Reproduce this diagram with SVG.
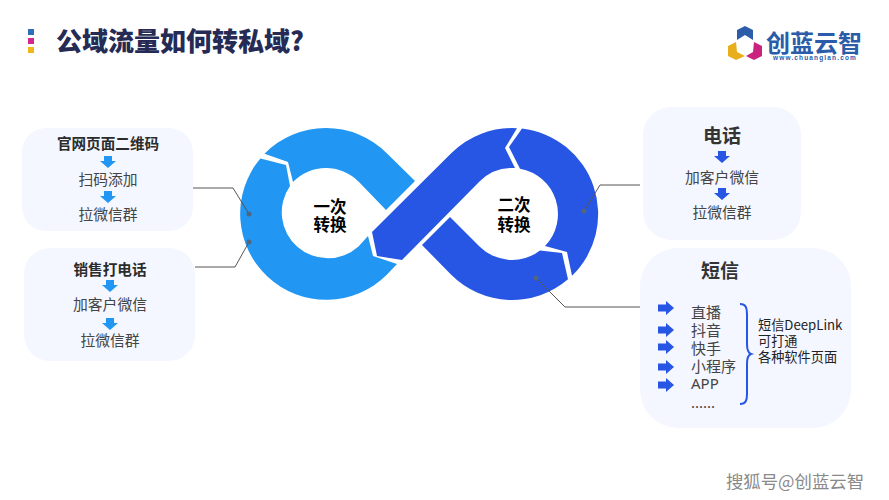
<svg xmlns="http://www.w3.org/2000/svg" width="889" height="500" viewBox="0 0 889 500">
<style>
text{font-family:"Noto Sans CJK SC","Noto Sans",sans-serif;text-anchor:middle}
.panel{fill:#f4f7ff}
.h{font-size:14.6px;font-weight:700;fill:#2b2b2b}
.b{font-size:14.8px;fill:#444}
.t{font-size:19px;font-weight:700;fill:#333}
.c{font-size:16.5px;font-weight:700;fill:#000}
.l{font-size:15px;fill:#444;text-anchor:start}
.n{font-size:13.2px;fill:#222;text-anchor:start}
.lb{fill:#2196f3}
.db{fill:#2756e4}
.wire{fill:none;stroke:#555;stroke-width:1}
.dot{fill:#50667f}
</style>
<defs>
<path id="down" d="M-4-6H4V-1H8L0 6-8-1H-4Z"/>
<path id="right" d="M-8-3.500H0V-7L8 0 0 7V3.500H-8Z" fill="#2756e4"/>
</defs>
<rect width="889" height="500" fill="#fff"/>
<g id="title">
<rect x="28" y="29" width="6" height="6" fill="#2d6fb8"/>
<rect x="28" y="38" width="6" height="6" fill="#d5258f"/>
<rect x="28" y="47" width="6" height="6" fill="#f0b71c"/>
<text x="180" y="50.500" style="font-size:26px;font-weight:900;fill:#262b55">公域流量如何转私域?</text>
</g>
<g id="logo">
<path d="M737 30L745 26 753 30V40L745 35 737 40Z" fill="#2d5ca8"/>
<path d="M728 46L736 42 737 52 745 56 736 60 728 56Z" fill="#e8ae1c"/>
<path d="M762 46L754 42 753 52 746 56 754 60 762 56Z" fill="#c9237f"/>
<text x="814" y="52" style="font-size:24px;font-weight:700;fill:#2a5caa">创蓝云智</text>
<text x="815" y="60" style="font-size:6.500px;font-weight:700;fill:#2a5caa;letter-spacing:1.150px;font-family:'Liberation Sans',sans-serif">www.chuanglan.com</text>
</g>
<g id="infinity">
<path class="lb" d="M264.500 153.700A86 86 0 0 1 386.800 153.200L415 181 386 210 358.500 181.500A46 46 0 0 0 293 182L288 162Z"/>
<path class="lb" d="M260.400 158.400L286 165 290 186A46 46 0 0 0 358.500 246.500L368 236 373 256 397 264 386.800 274.800A86 86 0 0 1 260.400 158.400Z"/>
<path class="db" d="M372 232L451.200 153.200A86 86 0 0 1 517 128.200L505 148 515 168.100A46 46 0 0 0 479.500 181.500L402 260 377 256Z"/>
<path class="db" d="M422 245L451.200 274.800A86 86 0 0 0 568 279.300L562 253 540 250.500A46 46 0 0 1 479.500 246.500L450 217Z"/>
<path class="db" d="M522 128.600L509 147 520 168.700A46 46 0 0 1 545 246L567 252 572 275.800A86 86 0 0 0 522 128.600Z"/>
<text class="c" x="330" y="213">一次</text>
<text class="c" x="330" y="231">转换</text>
<text class="c" x="514" y="211">二次</text>
<text class="c" x="514" y="231">转换</text>
</g>
<g id="node-web">
<rect class="panel" x="22" y="128" width="171" height="103" rx="24"/>
<text class="h" x="108" y="149">官网页面二维码</text>
<use href="#down" x="108" y="162" fill="#2196f3"/>
<text class="b" x="108" y="185">扫码添加</text>
<use href="#down" x="108" y="197" fill="#2196f3"/>
<text class="b" x="108" y="220">拉微信群</text>
</g>
<g id="node-sales">
<rect class="panel" x="24" y="248" width="171" height="113" rx="26"/>
<text class="h" x="110" y="275">销售打电话</text>
<use href="#down" x="110" y="286" fill="#2196f3"/>
<text class="b" x="110" y="310">加客户微信</text>
<use href="#down" x="110" y="324" fill="#2196f3"/>
<text class="b" x="110" y="346">拉微信群</text>
</g>
<g id="node-phone">
<rect class="panel" x="643" y="107" width="158" height="133" rx="28"/>
<text class="t" x="722" y="143">电话</text>
<use href="#down" x="722" y="157" fill="#2756e4"/>
<text class="b" x="722" y="183">加客户微信</text>
<use href="#down" x="722" y="194" fill="#2756e4"/>
<text class="b" x="722" y="218">拉微信群</text>
</g>
<g id="node-sms">
<rect class="panel" x="640" y="248" width="211" height="180" rx="38"/>
<text class="t" x="720" y="278">短信</text>
<use href="#right" x="666" y="308"/>
<use href="#right" x="666" y="330"/>
<use href="#right" x="666" y="347"/>
<use href="#right" x="666" y="367"/>
<use href="#right" x="666" y="385"/>
<text class="l" x="691" y="318">直播</text>
<text class="l" x="691" y="336">抖音</text>
<text class="l" x="691" y="354">快手</text>
<text class="l" x="691" y="372">小程序</text>
<text class="l" x="691" y="389" style="font-family:'Noto Sans',sans-serif">APP</text>
<text class="l" x="691" y="408" style="font-family:'Noto Sans',sans-serif">......</text>
<path d="M740 304C746 304 747 308 747 314V344C747 350 748 353 751 354 748 355 747 358 747 364V394C747 400 746 404 740 404" fill="none" stroke="#2756e4" stroke-width="2"/>
<text class="n" x="758" y="330">短信DeepLink</text>
<text class="n" x="758" y="346">可打通</text>
<text class="n" x="758" y="362">各种软件页面</text>
</g>
<g id="connectors">
<path class="wire" d="M193 188H233L249 214"/>
<path class="wire" d="M195 267H235L249 242"/>
<path class="wire" d="M640 185H600L584 211"/>
<path class="wire" d="M640 307H565L536 278"/>
<circle class="dot" cx="249" cy="214" r="2.500"/>
<circle class="dot" cx="249" cy="242" r="2.500"/>
<circle class="dot" cx="584" cy="211" r="2.500"/>
<circle class="dot" cx="536" cy="278" r="2.500"/>
</g>
<text id="watermark" x="795" y="488" style="font-size:17.400px;fill:#8a8a8a">搜狐号@创蓝云智</text>
</svg>
